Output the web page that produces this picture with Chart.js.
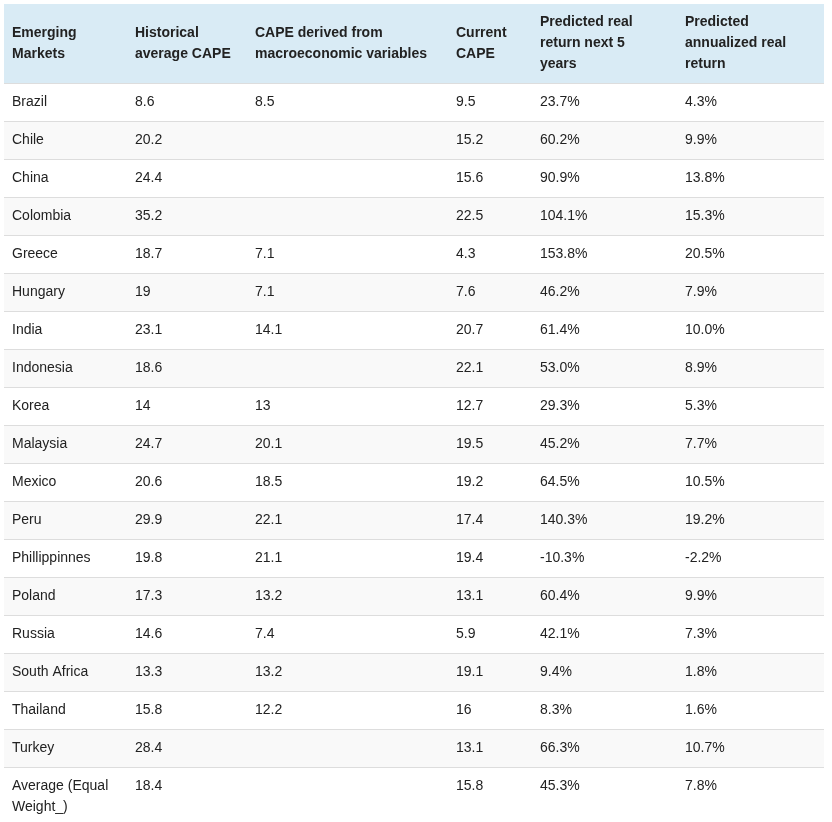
<!DOCTYPE html>
<html>
<head>
<meta charset="utf-8">
<script src="https://cdn.jsdelivr.net/npm/chart.js@4"></script>
<style>
  html, body { margin: 0; padding: 0; background: #fff; }
  #wrap { width: 832px; height: 822px; }
</style>
</head>
<body>
<div id="wrap"><canvas id="tableChart"></canvas></div>
<script>
// table data
const headers = [
  ["Emerging", "Markets"],
  ["Historical", "average CAPE"],
  ["CAPE derived from", "macroeconomic variables"],
  ["Current", "CAPE"],
  ["Predicted real", "return next 5", "years"],
  ["Predicted", "annualized real", "return"]
];
const markets = ["Brazil", "Chile", "China", "Colombia", "Greece", "Hungary", "India", "Indonesia", "Korea",
  "Malaysia", "Mexico", "Peru", "Phillippinnes", "Poland", "Russia", "South Africa", "Thailand", "Turkey",
  "Average (Equal\nWeight_)"];
const historicalCape = ["8.6", "20.2", "24.4", "35.2", "18.7", "19", "23.1", "18.6", "14", "24.7", "20.6",
  "29.9", "19.8", "17.3", "14.6", "13.3", "15.8", "28.4", "18.4"];
const macroCape = ["8.5", "", "", "", "7.1", "7.1", "14.1", "", "13", "20.1", "18.5", "22.1", "21.1", "13.2",
  "7.4", "13.2", "12.2", "", ""];
const currentCape = ["9.5", "15.2", "15.6", "22.5", "4.3", "7.6", "20.7", "22.1", "12.7", "19.5", "19.2",
  "17.4", "19.4", "13.1", "5.9", "19.1", "16", "13.1", "15.8"];
const return5y = ["23.7%", "60.2%", "90.9%", "104.1%", "153.8%", "46.2%", "61.4%", "53.0%", "29.3%", "45.2%",
  "64.5%", "140.3%", "-10.3%", "60.4%", "42.1%", "9.4%", "8.3%", "66.3%", "45.3%"];
const returnAnnual = ["4.3%", "9.9%", "13.8%", "15.3%", "20.5%", "7.9%", "10.0%", "8.9%", "5.3%", "7.7%",
  "10.5%", "19.2%", "-2.2%", "9.9%", "7.3%", "1.8%", "1.6%", "10.7%", "7.8%"];

const columns = [markets, historicalCape, macroCape, currentCape, return5y, returnAnnual];
// layout: left edge of each column in x-scale units
const colLeft = [12, 135, 255, 456, 540, 685];
const tableLeft = 4, tableRight = 824;
const headerUnits = 83 / 38, headerTopUnits = 79 / 38;

const tablePlugin = {
  id: "tablePlugin",
  afterDraw(chart) {
    const c = chart.ctx;
    const xs = chart.scales.x, ys = chart.scales.y;
    const left = xs.getPixelForValue(tableLeft), right = xs.getPixelForValue(tableRight);
    c.save();
    // header
    const hTop = ys.getPixelForValue(-headerTopUnits), hBot = ys.getPixelForValue(0);
    c.fillStyle = "#d9ebf5";
    c.fillRect(left, hTop, right - left, hBot - hTop);
    c.fillStyle = "#222";
    c.font = "bold 14px 'Liberation Sans', Arial, sans-serif";
    c.textBaseline = "middle";
    const hMid = (hTop + hBot) / 2;
    headers.forEach((lines, j) => {
      const x = xs.getPixelForValue(colLeft[j]);
      lines.forEach((t, k) => {
        c.fillText(t, x, hMid + (k - (lines.length - 1) / 2) * 21);
      });
    });
    // rows
    c.font = "14px 'Liberation Sans', Arial, sans-serif";
    markets.forEach((m, i) => {
      const top = ys.getPixelForValue(i);
      const bot = i === markets.length - 1 ? ys.getPixelForValue(ys.max) : ys.getPixelForValue(i + 1);
      if (i % 2 === 1) {
        c.fillStyle = "#f9f9f9";
        c.fillRect(left, top, right - left, bot - top);
      }
      c.strokeStyle = "#dddddd";
      c.lineWidth = 1;
      c.beginPath();
      c.moveTo(left, Math.round(top) + 0.5);
      c.lineTo(right, Math.round(top) + 0.5);
      c.stroke();
      c.fillStyle = "#222";
      const mid = top + 19;
      columns.forEach((col, j) => {
        const x = xs.getPixelForValue(colLeft[j]);
        String(col[i]).split("\n").forEach((t, k) => c.fillText(t, x, mid + k * 21));
      });
    });
    c.restore();
  }
};

new Chart(document.getElementById("tableChart"), {
  type: "scatter",
  data: { datasets: [{ data: [], pointRadius: 0 }] },
  options: {
    responsive: true,
    maintainAspectRatio: false,
    animation: false,
    layout: { padding: 0 },
    plugins: { legend: { display: false }, tooltip: { enabled: false } },
    scales: {
      x: { type: "linear", min: 0, max: 832, display: false },
      y: { type: "linear", min: -headerUnits, max: (822 - 83) / 38, reverse: true, display: false }
    }
  },
  plugins: [tablePlugin]
});
</script>
</body>
</html>
